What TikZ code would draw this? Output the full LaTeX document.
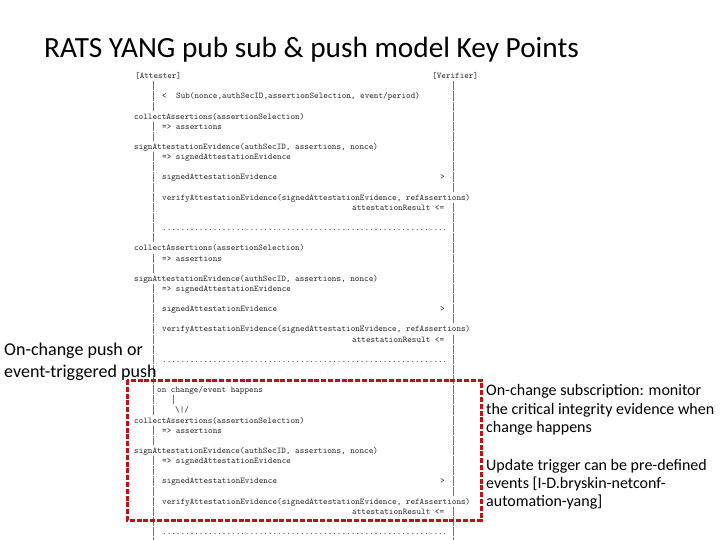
\documentclass[tikz,border=0pt]{standalone}
\usepackage{fontspec}
\setmainfont{Carlito}
\newcommand{\asc}[4]{\node[asc] (#1) at (#2,{78.7+10.13*(#3)}) {#4};}
\newcommand{\ablock}[2]{%
  \asc{#1col}{134}{#2}{collectAssertions(assertionSelection)}
  \asc{#1ass}{162}{#2+1}{=> assertions}
  \asc{#1sig}{134}{#2+3}{signAttestationEvidence(authSecID, assertions, nonce)}
  \asc{#1sev}{162}{#2+4}{=> signedAttestationEvidence}
  \asc{#1snd}{162}{#2+6}{signedAttestationEvidence}
  \asc{#1gt}{440}{#2+6}{>}
  \asc{#1ver}{162}{#2+8}{verifyAttestationEvidence(signedAttestationEvidence, refAssertions)}
  \asc{#1res}{352}{#2+9}{attestationResult <=}
  \asc{#1dot}{162}{#2+11}{..............................................................}
}
\begin{document}
\begin{tikzpicture}[x=1pt,y=-1pt,
  asc/.style={anchor=base west, inner sep=0pt, font=\ttfamily\fontsize{8.76}{10}\selectfont, text=black!82},
  bar/.style={draw=black!55, line width=0.8pt},
  slide/.style={anchor=base west, inner sep=0pt, text=black},
  redbox/.style={draw={rgb,255:red,192;green,16;blue,24}, line width=3pt, dash pattern=on 5pt off 1.8pt}]
\useasboundingbox (0,0) rectangle (720,540);
\fill[white] (0,0) rectangle (720,540);

% title
\node[slide, font=\fontsize{29.3}{34}\selectfont] (title) at (44,58) {RATS YANG pub sub \& push model Key Points};

% ascii lifelines
\foreach \i in {1,2,3,5,6,8,9,10,11,12,13,14,15,16,18,19,21,22,23,24,25,26,27,28,29,30,31,32,33,35,36,38,39,40,41,42,43,44,45,46}
  \draw[bar] (153,{71.2+10.13*\i}) -- (153,{80.3+10.13*\i});
\foreach \i in {1,2,3,4,5,6,7,8,9,10,11,13,14,15,16,17,18,19,20,21,22,23,24,26,27,28,29,30,31,32,33,34,35,36,37,38,39,40,41,43,44,45,46}
  \draw[bar] (453,{71.2+10.13*\i}) -- (453,{80.3+10.13*\i});

% ascii text
\asc{att}{135}{0}{[Attester]}
\asc{verf}{432}{0}{[Verifier]}
\asc{lt}{162}{2}{<}
\asc{sub}{176}{2}{Sub(nonce,authSecID,assertionSelection, event/period)}
\ablock{a}{4}
\ablock{b}{17}
\asc{onch}{157}{31}{on change/event happens}
\draw[bar] (173,{71.2+10.13*32}) -- (173,{80.3+10.13*32});
\asc{down}{175}{33}{\textbackslash|/}
\ablock{c}{34}

% red dashed frame
\draw[redbox] (127,380) rectangle (481,520);

% left label
\node[slide, font=\fontsize{18}{22}\selectfont] (lbl1) at (4,355) {On-change push or};
\node[slide, font=\fontsize{18}{22}\selectfont] (lbl2) at (4,377) {event-triggered push};

% right notes
\node[slide, font=\fontsize{16}{19}\selectfont] (r1) at (486,395) {On-change subscription: monitor};
\node[slide, font=\fontsize{16}{19}\selectfont] (r2) at (486,414) {the critical integrity evidence when};
\node[slide, font=\fontsize{16}{19}\selectfont] (r3) at (486,432) {change happens};
\node[slide, font=\fontsize{16}{19}\selectfont] (r4) at (486,470) {Update trigger can be pre-defined};
\node[slide, font=\fontsize{16}{19}\selectfont] (r5) at (486,488) {events [I-D.bryskin-netconf-};
\node[slide, font=\fontsize{16}{19}\selectfont] (r6) at (486,506) {automation-yang]};
\end{tikzpicture}
\end{document}
